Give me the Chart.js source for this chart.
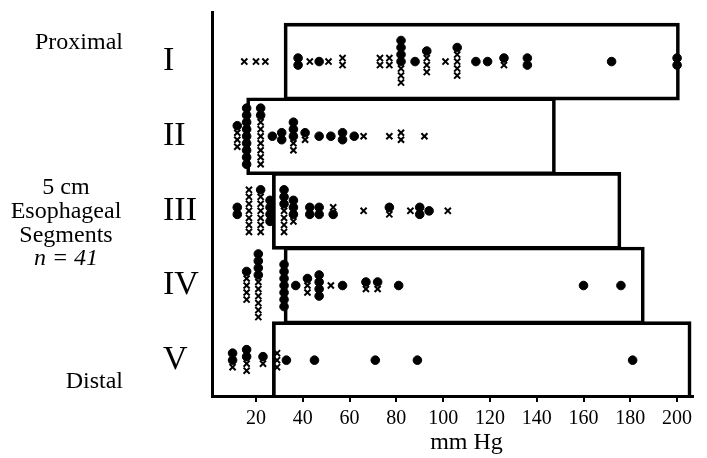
<!DOCTYPE html>
<html>
<head>
<meta charset="utf-8">
<title>Segment pressures</title>
<script src="https://cdn.jsdelivr.net/npm/chart.js@4.4.1/dist/chart.umd.min.js"></script>
<style>
  body { margin: 0; background: #fff; }
  #wrap { width: 707px; height: 458px; position: relative; }
</style>
</head>
<body>
<div id="wrap"><canvas id="mycanvas"></canvas></div>
<script>
// esophageal segments, proximal to distal
var segments = ['I', 'II', 'III', 'IV', 'V'];

// range box of each segment (mm Hg)
var boxLow  = [32, 16, 27, 32, 27];
var boxHigh = [201, 148, 176, 186, 206];

// stacked marks: [mm Hg, marks from top to bottom]  o = dot, x = cross
var marksI = [[15, 'x'], [20, 'x'], [24, 'x'], [38, 'oo'], [43, 'x'], [47, 'o'], [51, 'x'],
  [57, 'xx'], [73, 'xx'], [77, 'xx'], [82, 'ooooxxx'], [88, 'o'], [93, 'oxxx'], [101, 'x'],
  [106, 'oxxxx'], [114, 'o'], [119, 'o'], [126, 'ox'], [136, 'oo'], [172, 'o'], [200, 'oo']];
var marksII = [[12, 'oxxx'], [16, 'ooooooooo'], [22, 'ooxxxxxxx'], [27, 'o'], [31, 'oo'],
  [36, 'oooxx'], [41, 'ox'], [47, 'o'], [52, 'o'], [57, 'oo'], [62, 'o'], [66, 'x'],
  [77, 'x'], [82, 'xx'], [92, 'x']];
var marksIII = [[12, 'oo'], [17, 'xxxxxxx'], [22, 'oxxxxxx'], [26, 'oooo'], [32, 'oooxxxx'],
  [36, 'ooox'], [43, 'oo'], [47, 'oo'], [53, 'xo'], [66, 'x'], [77, 'ox'], [86, 'x'],
  [90, 'oo'], [94, 'o'], [102, 'x']];
var marksIV = [[16, 'oxxxx'], [21, 'ooooxxxxxx'], [32, 'ooooooo'], [37, 'o'], [42, 'oxx'],
  [47, 'oooo'], [52, 'x'], [57, 'o'], [67, 'ox'], [72, 'ox'], [81, 'o'], [160, 'o'], [176, 'o']];
var marksV = [[10, 'oox'], [16, 'ooxx'], [23, 'ox'], [29, 'xxx'], [33, 'o'], [45, 'o'],
  [71, 'o'], [89, 'o'], [181, 'o']];

var xTicks = [20, 40, 60, 80, 100, 120, 140, 160, 180, 200];

var topLabel = 'Proximal';
var bottomLabel = 'Distal';
var sideTitle = ['5 cm', 'Esophageal', 'Segments'];
var nLabel = 'n = 41';
var axisTitle = 'mm Hg';

var serif = '"Liberation Serif", "DejaVu Serif", serif';

// spread the marks of one column up and down around the segment line
var step = 0.094;
var dots = [], crosses = [], boxes = [];
[marksI, marksII, marksIII, marksIV, marksV].forEach(function(cols, r){
  cols.forEach(function(c){
    var n = c[1].length;
    for (var k = 0; k < n; k++) {
      var pt = {x: c[0], y: r + 1 + (k - (n - 1) / 2) * step};
      if (c[1][k] == 'o') dots.push(pt); else crosses.push(pt);
    }
  });
  boxes.push({x: [boxLow[r], boxHigh[r]], y: r + 1});
});

var sideText = {
  id: 'sideText',
  afterDraw: function(chart){
    var ctx = chart.ctx, a = chart.chartArea;
    ctx.save();
    ctx.fillStyle = '#000';
    ctx.textBaseline = 'middle';
    ctx.font = '24px ' + serif;
    ctx.textAlign = 'right';
    ctx.fillText(topLabel, 123, 43);
    ctx.fillText(bottomLabel, 123, 382);
    ctx.textAlign = 'center';
    sideTitle.forEach(function(t, i){
      ctx.fillText(t, 66, 188 + i * 24);
    });
    ctx.font = 'italic 24px ' + serif;
    ctx.fillText(nLabel, 66, 259);
    ctx.font = '24px ' + serif;
    ctx.fillText(axisTitle, (a.left + a.right) / 2 + 14, 443);
    ctx.restore();
  }
};

var ctx = document.getElementById('mycanvas').getContext('2d');
var chart = new Chart(ctx, {
  type: 'scatter',
  data: {
    datasets: [{
      type: 'scatter',
      data: dots,
      pointStyle: 'circle',
      pointRadius: 4.3,
      pointBorderWidth: 1,
      backgroundColor: '#000',
      borderColor: '#000',
      order: 0
    }, {
      type: 'scatter',
      data: crosses,
      pointStyle: 'crossRot',
      pointRadius: 4.3,
      pointBorderWidth: 2,
      borderColor: '#000',
      order: 0
    }, {
      type: 'bar',
      indexAxis: 'y',
      data: boxes,
      barThickness: 77,
      backgroundColor: 'rgba(0,0,0,0)',
      borderColor: '#000',
      borderWidth: 3,
      borderSkipped: false,
      order: 1
    }]
  },
  options: {
    responsive: true,
    maintainAspectRatio: false,
    animation: false,
    layout: { padding: { left: 163, right: 14, top: 12, bottom: 0 } },
    plugins: { legend: { display: false }, tooltip: { enabled: false } },
    scales: {
      x: {
        type: 'linear',
        min: 1.2,
        max: 206.8,
        offset: false,
        afterBuildTicks: function(axis){
          axis.ticks = xTicks.map(function(v){ return {value: v}; });
        },
        afterFit: function(axis){
          axis.height = 62;
          axis.paddingLeft = 0;
          axis.paddingRight = 0;
        },
        grid: { display: true, offset: false, drawOnChartArea: false, drawTicks: true, tickLength: 6, color: '#000', lineWidth: 2 },
        border: { display: true, color: '#000', width: 3 },
        ticks: { color: '#000', padding: 5, font: { family: serif, size: 20 } }
      },
      y: {
        type: 'linear',
        reverse: true,
        min: 0.336,
        max: 5.48,
        offset: false,
        afterBuildTicks: function(axis){
          axis.ticks = segments.map(function(s, i){ return {value: i + 1}; });
        },
        afterFit: function(axis){
          axis.width = 49;
          axis.paddingTop = 0;
          axis.paddingBottom = 0;
        },
        grid: { display: false, offset: false },
        border: { display: true, color: '#000', width: 3 },
        ticks: {
          color: '#000',
          crossAlign: 'far',
          padding: 0,
          font: { family: serif, size: 34 },
          callback: function(v, i){ return segments[i]; }
        }
      }
    }
  },
  plugins: [sideText]
});
</script>
</body>
</html>
